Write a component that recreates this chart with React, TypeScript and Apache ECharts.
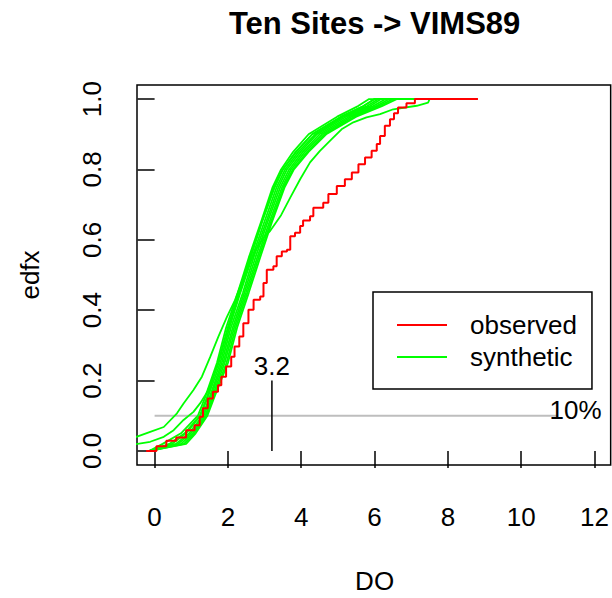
import React, { useEffect, useRef } from "react";
import * as echarts from "echarts";

const FONT = "'Liberation Sans', Arial, Helvetica, sans-serif";

const xTicks = [0, 2, 4, 6, 8, 10, 12];
const yTicks = [0, 0.2, 0.4, 0.6, 0.8, 1.0];

const observed: number[][] = [
  [-0.23, 0.0], [0.05, 0.013], [0.32, 0.029], [0.59, 0.038], [0.86, 0.059], [1.09, 0.073],
  [1.23, 0.097], [1.32, 0.121], [1.45, 0.149], [1.59, 0.168], [1.73, 0.187], [1.82, 0.211],
  [1.95, 0.24], [2.09, 0.268], [2.18, 0.297], [2.31, 0.325], [2.42, 0.363], [2.56, 0.401],
  [2.7, 0.43], [2.88, 0.439], [2.97, 0.477], [3.06, 0.515], [3.24, 0.525], [3.33, 0.553],
  [3.47, 0.567], [3.61, 0.572], [3.7, 0.61], [3.83, 0.62], [3.97, 0.639], [4.05, 0.655],
  [4.24, 0.667], [4.33, 0.691], [4.6, 0.705], [4.74, 0.73], [4.97, 0.753], [5.19, 0.772],
  [5.38, 0.791], [5.56, 0.815], [5.74, 0.834], [5.92, 0.853], [6.06, 0.872], [6.15, 0.895],
  [6.28, 0.924], [6.42, 0.943], [6.53, 0.96], [6.64, 0.976], [6.87, 0.988], [7.1, 1.0],
  [8.82, 1.0],
];

const synWide: number[][] = [
  [-0.6, 0.036], [-0.12, 0.054], [0.25, 0.068], [0.61, 0.107], [0.79, 0.135], [1.06, 0.173],
  [1.29, 0.211], [1.52, 0.268], [1.74, 0.325], [1.97, 0.38], [2.2, 0.43], [2.45, 0.5],
  [2.75, 0.57], [3.0, 0.61], [3.15, 0.625], [3.45, 0.67], [3.7, 0.72], [3.97, 0.772],
  [4.24, 0.82], [4.51, 0.853], [4.83, 0.886], [5.1, 0.914], [5.42, 0.934], [5.78, 0.948],
  [6.15, 0.957], [6.51, 0.971], [7.15, 0.981], [7.46, 0.99], [7.5, 1.0], [8.33, 1.0],
];

const synLow: number[][] = [
  [-0.6, 0.018], [-0.12, 0.026], [0.25, 0.04], [0.52, 0.059], [0.79, 0.088], [1.06, 0.111],
  [1.24, 0.135], [1.45, 0.17], [1.75, 0.25], [2.0, 0.35], [2.3, 0.45], [2.6, 0.55],
  [2.92, 0.65], [3.25, 0.75], [3.5, 0.8], [3.85, 0.85], [4.3, 0.9], [5.1, 0.95],
  [5.7, 0.98], [6.0, 1.0], [8.33, 1.0],
];

const synB1: number[][] = [[-0.15, 0], [0.22, 0.02], [0.72, 0.05], [1.18, 0.1], [1.37, 0.15], [1.7, 0.25], [1.95, 0.35], [2.27, 0.45], [2.57, 0.55], [2.9, 0.65], [3.22, 0.75], [3.45, 0.8], [3.78, 0.85], [4.2, 0.9], [4.98, 0.95], [5.55, 0.98], [5.85, 1], [8.33, 1]];
const synB2: number[][] = [[-0.12, 0], [0.4, 0.02], [0.82, 0.05], [1.23, 0.1], [1.42, 0.15], [1.73, 0.25], [2.0, 0.35], [2.31, 0.45], [2.62, 0.55], [2.93, 0.65], [3.28, 0.75], [3.5, 0.8], [3.86, 0.85], [4.3, 0.9], [5.08, 0.95], [5.7, 0.98], [6.0, 1], [8.33, 1]];
const synB3: number[][] = [[-0.14, 0], [0.48, 0.02], [0.86, 0.05], [1.25, 0.1], [1.44, 0.15], [1.79, 0.25], [2.04, 0.35], [2.34, 0.45], [2.66, 0.55], [2.99, 0.65], [3.33, 0.75], [3.56, 0.8], [3.92, 0.85], [4.38, 0.9], [5.15, 0.95], [5.8, 0.98], [6.1, 1], [8.33, 1]];
const synB4: number[][] = [[-0.1, 0], [0.58, 0.02], [0.94, 0.05], [1.31, 0.1], [1.49, 0.15], [1.83, 0.25], [2.08, 0.35], [2.41, 0.45], [2.7, 0.55], [3.04, 0.65], [3.38, 0.75], [3.61, 0.8], [3.98, 0.85], [4.43, 0.9], [5.22, 0.95], [5.88, 0.98], [6.18, 1], [8.33, 1]];
const synB5: number[][] = [[-0.13, 0], [0.64, 0.02], [0.99, 0.05], [1.34, 0.1], [1.52, 0.15], [1.87, 0.25], [2.13, 0.35], [2.45, 0.45], [2.75, 0.55], [3.08, 0.65], [3.43, 0.75], [3.67, 0.8], [4.04, 0.85], [4.5, 0.9], [5.3, 0.95], [5.96, 0.98], [6.3, 1], [8.33, 1]];
const synB6: number[][] = [[-0.15, 0], [0.72, 0.02], [1.04, 0.05], [1.38, 0.1], [1.56, 0.15], [1.91, 0.25], [2.17, 0.35], [2.49, 0.45], [2.8, 0.55], [3.13, 0.65], [3.48, 0.75], [3.72, 0.8], [4.1, 0.85], [4.57, 0.9], [5.37, 0.95], [6.05, 0.98], [6.4, 1], [8.33, 1]];
const synB7: number[][] = [[-0.11, 0], [0.8, 0.02], [1.08, 0.05], [1.41, 0.1], [1.59, 0.15], [1.96, 0.25], [2.21, 0.35], [2.53, 0.45], [2.84, 0.55], [3.17, 0.65], [3.52, 0.75], [3.77, 0.8], [4.16, 0.85], [4.63, 0.9], [5.44, 0.95], [6.12, 0.98], [6.5, 1], [8.33, 1]];
const synB8: number[][] = [[-0.15, 0], [0.86, 0.02], [1.12, 0.05], [1.44, 0.1], [1.62, 0.15], [2.0, 0.25], [2.25, 0.35], [2.57, 0.45], [2.88, 0.55], [3.2, 0.65], [3.55, 0.75], [3.8, 0.8], [4.2, 0.85], [4.68, 0.9], [5.5, 0.95], [6.2, 0.98], [6.6, 1], [8.33, 1]];

const synthetic = [synB1, synB2, synB3, synB4, synB5, synB6, synB7, synB8, synLow, synWide];

const tenPctLine: number[][] = [[0, 0.1], [11, 0.1]];
const markSegment: number[][] = [[3.2, 0], [3.2, 0.2]];
const annotations: { value: number[]; text: string }[] = [
  { value: [3.2, 0.242], text: "3.2" },
  { value: [11.48, 0.116], text: "10%" },
];

export default function App() {
  const ref = useRef<HTMLDivElement>(null);
  useEffect(() => {
    if (!ref.current) return;
    const chart = echarts.init(ref.current, null, { renderer: "svg" });
    const txt = { fontFamily: FONT, fontSize: 26, color: "#000" };
    const option: any = {
      animation: false,
      backgroundColor: "#fff",
      grid: {
        left: 137, right: 1, top: 85, bottom: 133,
        show: true, borderColor: "#000", borderWidth: 1.5, backgroundColor: "transparent",
      },
      xAxis: {
        type: "value", min: -0.48, max: 12.44,
        splitLine: { show: false },
        axisLine: { show: false },
        axisTick: { show: true, customValues: xTicks, length: 17, lineStyle: { color: "#000", width: 1.5 } },
        axisLabel: { customValues: xTicks, margin: 39, ...txt, lineHeight: 26, formatter: (v: number) => String(v) },
      },
      yAxis: {
        type: "value", min: -0.04, max: 1.04,
        splitLine: { show: false },
        axisLine: { show: false },
        axisTick: { show: true, customValues: yTicks, length: 17, lineStyle: { color: "#000", width: 1.5 } },
        axisLabel: { customValues: yTicks, margin: 32, rotate: 90, ...txt, lineHeight: 26, formatter: (v: number) => v.toFixed(1) },
      },
      legend: {
        orient: "vertical",
        left: 373, top: 292,
        padding: [20, 15, 19, 24],
        itemGap: 6,
        itemWidth: 50, itemHeight: 2,
        icon: "rect",
        borderColor: "#000", borderWidth: 1.5, borderRadius: 0,
        textStyle: { ...txt, lineHeight: 26, padding: [0, 0, 0, 18] },
        data: ["observed", "synthetic"],
        selectedMode: false,
      },
      graphic: [
        { type: "text", x: 374.6, y: 23.5, style: { text: "Ten Sites -> VIMS89", font: `bold 31px ${FONT}`, fill: "#000", align: "center", verticalAlign: "middle" } },
        { type: "text", x: 374.6, y: 581, style: { text: "DO", font: `26px ${FONT}`, fill: "#000", align: "center", verticalAlign: "middle" } },
        { type: "text", x: 30, y: 275, rotation: Math.PI / 2, style: { text: "edfx", font: `26px ${FONT}`, fill: "#000", align: "center", verticalAlign: "middle" } },
      ],
      series: [
        { type: "line", name: "ten", data: tenPctLine, symbol: "none", lineStyle: { color: "#BEBEBE", width: 2 }, itemStyle: { color: "#BEBEBE" }, z: 1 },
        ...synthetic.map((d) => ({
          type: "line", name: "synthetic", data: d, symbol: "none", clip: true,
          lineStyle: { color: "#00FF00", width: 1.8 }, itemStyle: { color: "#00FF00" }, z: 2,
        })),
        { type: "line", name: "observed", data: observed, step: "end", symbol: "none", clip: true, lineStyle: { color: "#FF0000", width: 2 }, itemStyle: { color: "#FF0000" }, z: 3 },
        { type: "line", name: "seg", data: markSegment, symbol: "none", lineStyle: { color: "#000", width: 1.5 }, itemStyle: { color: "#000" }, z: 3 },
        {
          type: "scatter", name: "ann", symbolSize: 1, itemStyle: { color: "rgba(0,0,0,0)", opacity: 1 }, z: 4,
          data: annotations.map((a) => ({
            value: a.value,
            label: { show: true, position: "inside", formatter: a.text, ...txt, opacity: 1, textBorderWidth: 0 },
          })),
        },
      ],
    };
    chart.setOption(option);
    return () => chart.dispose();
  }, []);
  return <div ref={ref} style={{ width: 612, height: 598, position: "absolute", left: 0, top: 0 }} />;
}
